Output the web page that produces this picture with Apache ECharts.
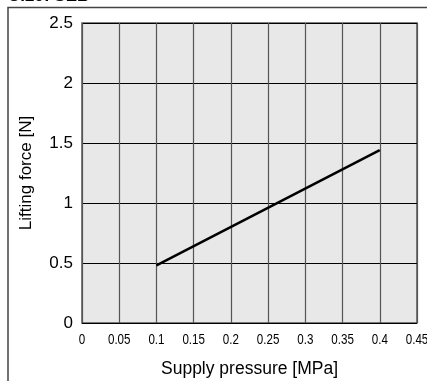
<!DOCTYPE html>
<html><head><meta charset="utf-8">
<script src="https://cdn.jsdelivr.net/npm/echarts@6/dist/echarts.min.js"></script>
<style>html,body{margin:0;padding:0;background:#fff}#c{width:427px;height:381px}</style>
</head><body><div id="c"></div>
<script>
const xTicks = [0,0.05,0.1,0.15,0.2,0.25,0.3,0.35,0.4,0.45];
const yTicks = [0,0.5,1,1.5,2,2.5];
const pressure = [0.1, 0.4];
const force = [0.48, 1.44];
const xTitle = 'Supply pressure [MPa]';
const yTitle = 'Lifting force [N]';
const headerText = 'U.29: SEB';

const chart = echarts.init(document.getElementById('c'), null, {renderer:'canvas'});
const baseGraphic = [
  {type:'polyline',shape:{points:[[8,400],[8,7.5],[440,7.5]]},style:{stroke:'#444',lineWidth:1.5,fill:null}},
  {type:'text',left:8,top:-12,style:{text:headerText,fontSize:17,fontWeight:'bold',fontFamily:'Liberation Sans',fill:'#000'}}
];
chart.setOption({
  animation:false,
  backgroundColor:'#fff',
  grid:{left:82,top:23,right:10,bottom:58,outerBoundsMode:'none',containLabel:false,show:true,backgroundColor:'#e8e8e8',borderColor:'#555',borderWidth:1.5},
  graphic:baseGraphic,
  xAxis:{type:'value',min:0,max:0.45,interval:0.05,
    name:xTitle,nameLocation:'middle',nameGap:37,
    nameTextStyle:{fontFamily:'Liberation Sans',fontSize:17.5,color:'#000'},
    axisLine:{show:false},axisTick:{show:false},
    axisLabel:{show:false},
    splitLine:{show:true,lineStyle:{color:'#555',width:1.2}}},
  yAxis:{type:'value',min:0,max:2.5,interval:0.5,
    name:yTitle,nameLocation:'middle',nameGap:47,
    nameTextStyle:{fontFamily:'Liberation Sans',fontSize:17,color:'#000'},
    axisLine:{show:false},axisTick:{show:false},
    axisLabel:{fontFamily:'Liberation Sans',fontSize:17,color:'#000',margin:9,
      formatter:v=>{const t=yTicks.find(x=>Math.abs(x-v)<1e-9);return t===undefined?'':String(t);}},
    splitLine:{show:true,lineStyle:{color:'#000',width:1.2}}},
  series:[{type:'line',data:pressure.map((p,i)=>[p,force[i]]),showSymbol:false,
    lineStyle:{color:'#000',width:2.5}}]
});
// x tick labels in a condensed look, positioned by the axis scale
const yBase = chart.convertToPixel({yAxisIndex:0}, 0);
const labels = xTicks.map(v => {
  const px = chart.convertToPixel({xAxisIndex:0}, v);
  return {type:'text', x:px, y:yBase+9, scaleX:0.8, scaleY:1, originX:0, originY:0,
    style:{text:String(v), fontSize:14.5, fontFamily:'Liberation Sans', fill:'#000', align:'center', verticalAlign:'top'}};
});
chart.setOption({graphic:baseGraphic.concat(labels)});
</script></body></html>
